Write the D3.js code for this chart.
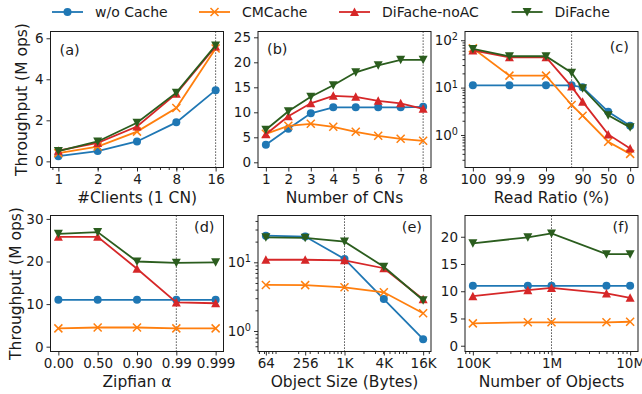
<!DOCTYPE html>
<html>
<head>
<meta charset="utf-8">
<script src="https://cdn.jsdelivr.net/npm/d3@7"></script>
<style>
body { margin: 0; background: #fff; }
text { font-family: "DejaVu Sans", sans-serif; fill: #1a1a1a; }
</style>
</head>
<body>
<svg id="chart" width="642" height="394"></svg>
<script>
// series names + colours
const series = ["w/o Cache", "CMCache", "DiFache-noAC", "DiFache"];
const colors = ["#1f77b4", "#ff7f0e", "#d62728", "#2b5d1e"];
const markers = ["circle", "x", "up", "down"];

// (a) number of clients, 1 CN
const clientCounts = [1, 2, 4, 8, 16];
const clientsNoCache = [0.25, 0.5, 0.97, 1.9, 3.47];
const clientsCM = [0.4, 0.72, 1.45, 2.6, 5.5];
const clientsNoAC = [0.52, 0.9, 1.7, 3.3, 5.6];
const clientsDiFache = [0.5, 0.97, 1.88, 3.35, 5.65];

// (b) number of CNs
const cnCounts = [1, 2, 3, 4, 5, 6, 7, 8];
const cnNoCache = [3.5, 6.7, 9.8, 11, 11, 11, 11, 11.1];
const cnCM = [5.7, 7.3, 7.7, 7.1, 6.1, 5.3, 4.7, 4.3];
const cnNoAC = [5.6, 9.2, 11.8, 13.3, 13.1, 12.3, 11.8, 10.7];
const cnDiFache = [6.5, 10.2, 13.1, 15.4, 18.0, 19.4, 20.5, 20.5];

// (c) read ratio (%), plotted on the original's x positions
const readRatios = ["100", "99.9", "99", "95", "90", "50", "0"];
const ratioX = [0, 1, 2, 2.7, 3, 3.7, 4.3];
const defaultRatio = "95";
const ratioNoCache = [11.2, 11.2, 11.2, 11.2, 10.2, 3.1, 1.57];
const ratioCM = [68, 17.9, 17.9, 4.3, 2.56, 0.72, 0.40];
const ratioNoAC = [61, 43.8, 43.8, 10.5, 5.06, 1.03, 0.52];
const ratioDiFache = [65.6, 45.9, 45.9, 20.7, 9.7, 2.6, 1.45];

// (d) zipfian alpha
const zipfLabels = ["0.00", "0.50", "0.90", "0.99", "0.999"];
const zipfNoCache = [11, 11, 11, 11, 11];
const zipfCM = [4.3, 4.5, 4.5, 4.3, 4.3];
const zipfNoAC = [25.8, 25.8, 18.3, 10.4, 10.2];
const zipfDiFache = [26.5, 26.9, 20.0, 19.7, 19.8];

// (e) object size
const objSizes = [64, 256, 1024, 4096, 16384];
const objSizeLabels = ["64", "256", "1K", "4K", "16K"];
const sizeNoCache = [24.4, 23.7, 11.2, 2.92, 0.76];
const sizeCM = [4.68, 4.65, 4.33, 3.66, 1.81];
const sizeNoAC = [10.9, 10.9, 10.7, 8.2, 2.9];
const sizeDiFache = [23.1, 22.7, 20.0, 8.6, 2.8];

// (f) number of objects
const objCounts = [1e5, 5e5, 1e6, 5e6, 1e7];
const objCountTicks = [1e5, 1e6, 1e7];
const objCountLabels = ["100K", "1M", "10M"];
const countNoCache = [11, 11, 11, 11, 11];
const countCM = [4.1, 4.3, 4.3, 4.3, 4.4];
const countNoAC = [9.1, 10.2, 10.6, 9.6, 8.8];
const countDiFache = [18.8, 19.9, 20.6, 16.8, 16.8];

const W = 173, H = 136;
const svg = d3.select("#chart");

function logMinors(lo, hi) {
  const out = [];
  for (let e = Math.floor(Math.log10(lo)); e <= Math.ceil(Math.log10(hi)); e++) {
    for (let k = 2; k < 10; k++) {
      const v = k * Math.pow(10, e);
      if (v >= lo && v <= hi) out.push(v);
    }
  }
  return out;
}

function drawMarker(g, kind, cx, cy, color) {
  const s = 4;
  if (kind === "circle") {
    g.append("circle").attr("cx", cx).attr("cy", cy).attr("r", s).attr("fill", color);
  } else if (kind === "x") {
    g.append("path")
      .attr("d", `M${cx - s},${cy - s}L${cx + s},${cy + s}M${cx - s},${cy + s}L${cx + s},${cy - s}`)
      .attr("stroke", color).attr("stroke-width", 1.5).attr("fill", "none");
  } else {
    const d = kind === "up" ? 1 : -1;
    g.append("path")
      .attr("d", `M${cx},${cy - d * 4.5}L${cx + 4.5},${cy + d * 4}L${cx - 4.5},${cy + d * 4}Z`)
      .attr("fill", color);
  }
}

function styleAxis(ax) {
  ax.select(".domain").remove();
  ax.selectAll(".tick line").attr("stroke", "#1a1a1a").attr("stroke-width", 0.9);
  ax.selectAll(".tick text").attr("font-size", "13.5px").attr("fill", "#1a1a1a");
}

function powLabels(ax) {
  ax.selectAll(".tick text").each(function (d) {
    const t = d3.select(this);
    t.text("10");
    t.append("tspan").attr("dy", "-0.5em").attr("font-size", "0.72em")
      .text(Math.round(Math.log10(d)));
  });
}

function drawPanel(p) {
  const g = svg.append("g");
  const x = p.x.range([p.left, p.left + W]);
  const y = p.y.range([p.top + H, p.top]);

  g.append("line")
    .attr("x1", x(p.mark)).attr("x2", x(p.mark))
    .attr("y1", p.top).attr("y2", p.top + H)
    .attr("stroke", "#222").attr("stroke-width", 1).attr("stroke-dasharray", "1.2,1.8");

  const line = d3.line().x(d => x(d[0])).y(d => y(d[1]));
  p.values.forEach((vals, i) => {
    const pts = p.xs.map((v, j) => [v, vals[j]]);
    g.append("path").datum(pts).attr("d", line)
      .attr("fill", "none").attr("stroke", colors[i]).attr("stroke-width", 1.8);
    pts.forEach(d => drawMarker(g, markers[i], x(d[0]), y(d[1]), colors[i]));
  });

  g.append("rect").attr("x", p.left).attr("y", p.top).attr("width", W).attr("height", H)
    .attr("fill", "none").attr("stroke", "#1a1a1a").attr("stroke-width", 1);

  // x axis
  if (p.xMinor) {
    const mx = g.append("g").attr("transform", `translate(0,${p.top + H})`)
      .call(d3.axisBottom(x).tickValues(p.xMinor).tickFormat("").tickSize(2.5));
    styleAxis(mx);
  }
  const xa = g.append("g").attr("transform", `translate(0,${p.top + H})`)
    .call(d3.axisBottom(x).tickValues(p.xTicks).tickFormat((d, i) => p.xLabels[i])
      .tickSize(4).tickPadding(3));
  styleAxis(xa);

  // y axis
  if (p.yMinor) {
    const my = g.append("g").attr("transform", `translate(${p.left},0)`)
      .call(d3.axisLeft(y).tickValues(p.yMinor).tickFormat("").tickSize(2.5));
    styleAxis(my);
  }
  const ya = g.append("g").attr("transform", `translate(${p.left},0)`)
    .call(d3.axisLeft(y).tickValues(p.yTicks).tickFormat(d3.format("d")).tickSize(4).tickPadding(3));
  styleAxis(ya);
  if (p.logY) powLabels(ya);

  g.append("text").attr("x", p.left + W / 2).attr("y", p.xlabelY)
    .attr("text-anchor", "middle").attr("font-size", "15.5px").text(p.xlabel);

  g.append("text")
    .attr("x", p.tagRight ? p.left + W - 9 : p.left + 9)
    .attr("y", p.tagY)
    .attr("text-anchor", p.tagRight ? "end" : "start")
    .attr("font-size", "14.5px").text(p.tag);

  if (p.ylabelX) {
    g.append("text")
      .attr("transform", `translate(${p.ylabelX},${p.top + H / 2}) rotate(-90)`)
      .attr("text-anchor", "middle").attr("font-size", "15.5px").text("Throughput (M ops)");
  }
}

const cols = [50.5, 258, 465], rows = [31.5, 215.5];
const zipfIdx = zipfLabels.map((d, i) => i);

drawPanel({
  left: cols[0], top: rows[0], tag: "(a)", tagY: 55, xlabel: "#Clients (1 CN)", xlabelY: 203, ylabelX: 27,
  x: d3.scaleLog().base(2).domain([Math.pow(2, -0.2), Math.pow(2, 4.2)]),
  y: d3.scaleLinear().domain([-0.3, 6.33]),
  xs: clientCounts, values: [clientsNoCache, clientsCM, clientsNoAC, clientsDiFache],
  xTicks: clientCounts, xLabels: clientCounts.map(String), xMinor: logMinors(0.87, 18),
  yTicks: [0, 2, 4, 6], mark: 16
});

drawPanel({
  left: cols[1], top: rows[0], tag: "(b)", tagY: 54, xlabel: "Number of CNs", xlabelY: 203,
  x: d3.scaleLinear().domain([0.65, 8.35]),
  y: d3.scaleLinear().domain([-1.04, 26.16]),
  xs: cnCounts, values: [cnNoCache, cnCM, cnNoAC, cnDiFache],
  xTicks: cnCounts, xLabels: cnCounts.map(String),
  yTicks: [0, 5, 10, 15, 20, 25], mark: 8
});

const ratioShown = readRatios.map((r, i) => i).filter(i => readRatios[i] !== defaultRatio);
drawPanel({
  left: cols[2], top: rows[0], tag: "(c)", tagY: 52, tagRight: true, xlabel: "Read Ratio (%)", xlabelY: 203,
  x: d3.scaleLinear().domain([-0.215, 4.515]),
  y: d3.scaleLog().domain([0.206, 153]), logY: true,
  xs: ratioX, values: [ratioNoCache, ratioCM, ratioNoAC, ratioDiFache],
  xTicks: ratioShown.map(i => ratioX[i]), xLabels: ratioShown.map(i => readRatios[i]),
  yTicks: [1, 10, 100], yMinor: logMinors(0.206, 153),
  mark: ratioX[readRatios.indexOf(defaultRatio)]
});

drawPanel({
  left: cols[0], top: rows[1], tag: "(d)", tagY: 232, tagRight: true, xlabel: "Zipfian α", xlabelY: 387, ylabelX: 20.5,
  x: d3.scaleLinear().domain([-0.2, 4.2]),
  y: d3.scaleLinear().domain([-1.13, 30.8]),
  xs: zipfIdx, values: [zipfNoCache, zipfCM, zipfNoAC, zipfDiFache],
  xTicks: zipfIdx, xLabels: zipfLabels,
  yTicks: [0, 10, 20, 30], mark: 3
});

drawPanel({
  left: cols[1], top: rows[1], tag: "(e)", tagY: 232, tagRight: true, xlabel: "Object Size (Bytes)", xlabelY: 387,
  x: d3.scaleLog().base(2).domain([64 * Math.pow(2, -0.4), 16384 * Math.pow(2, 0.4)]),
  y: d3.scaleLog().domain([0.503, 48]), logY: true,
  xs: objSizes, values: [sizeNoCache, sizeCM, sizeNoAC, sizeDiFache],
  xTicks: objSizes, xLabels: objSizeLabels, xMinor: logMinors(48.5, 21600),
  yTicks: [1, 10], yMinor: logMinors(0.503, 48), mark: 1024
});

drawPanel({
  left: cols[2], top: rows[1], tag: "(f)", tagY: 232, tagRight: true, xlabel: "Number of Objects", xlabelY: 387,
  x: d3.scaleLog().domain([Math.pow(10, 4.9), Math.pow(10, 7.1)]),
  y: d3.scaleLinear().domain([-1.06, 23.9]),
  xs: objCounts, values: [countNoCache, countCM, countNoAC, countDiFache],
  xTicks: objCountTicks, xLabels: objCountLabels, xMinor: logMinors(Math.pow(10, 4.9), Math.pow(10, 7.1)),
  yTicks: [0, 5, 10, 15, 20], mark: 1e6
});

// legend
const legendX = [52, 199, 339, 511.6];
const legend = svg.append("g");
series.forEach((s, i) => {
  const lx = legendX[i], ly = 12;
  legend.append("line").attr("x1", lx).attr("x2", lx + 31).attr("y1", ly).attr("y2", ly)
    .attr("stroke", colors[i]).attr("stroke-width", 1.8);
  drawMarker(legend, markers[i], lx + 15.5, ly, colors[i]);
  legend.append("text").attr("x", lx + 43).attr("y", ly).attr("dy", "0.36em")
    .attr("font-size", "14px").text(s);
});
</script>
</body>
</html>
